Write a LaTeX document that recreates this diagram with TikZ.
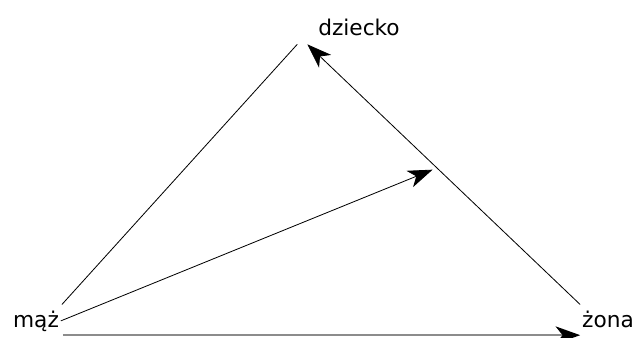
\documentclass[tikz,border=0pt]{standalone}
\usepackage{fontspec}
\setmainfont{DejaVu Sans}
\usetikzlibrary{arrows.meta,calc}

\begin{document}
\begin{tikzpicture}[x=0.03cm, y=-0.03cm, >={Stealth[length=21pt,width=15pt,inset=6pt]},
    every node/.style={font=\fontsize{18.5}{20}\selectfont, inner sep=1.5pt}]
    \useasboundingbox (0,0) rectangle (638,338);
    \node[anchor=base] (dziecko) at (359,36) {dziecko};
    \node[anchor=base] (maz) at (36,327) {mąż};
    \node[anchor=base] (zona) at (608,327) {żona};
    % end points near the nodes
    \coordinate (dl) at ([shift={(-19,6)}]dziecko.south west);
    \coordinate (dr) at ([shift={(-9,6)}]dziecko.south west);
    \coordinate (ml) at ([shift={(1,-4)}]maz.north east);
    \coordinate (zl) at ([shift={(0,-4)}]zona.north west);
    \coordinate (mb) at ([shift={(2,2)}]maz.south east);
    \draw[line width=0.7pt] (ml) -- (dl);
    \draw[->,line width=0.7pt] (zl) -- (dr);
    \draw[->,line width=0.7pt,shorten >=4pt] (maz.east) -- ($(zl)!0.525!(dr)$);
    \draw[-{Stealth[length=21pt,width=15pt,inset=6pt,black]},line width=1.6pt,black!45]
      (mb) -- (mb -| zona.west);
  \end{tikzpicture}
\end{document}
